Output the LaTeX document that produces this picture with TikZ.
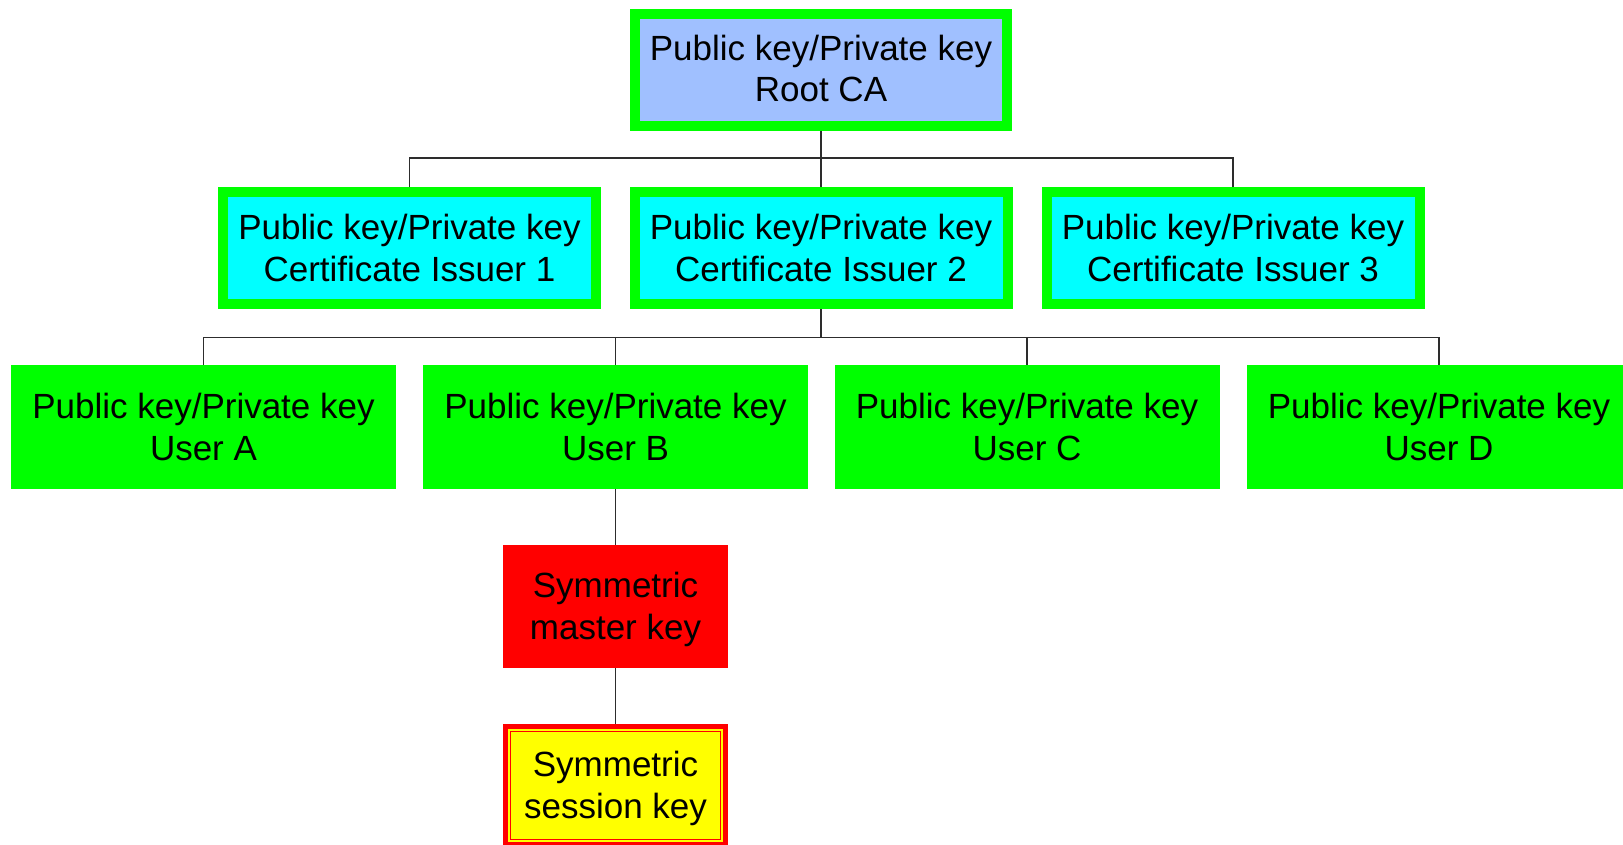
\documentclass[tikz,border=0pt]{standalone}
\usepackage{fontspec}
\setmainfont{Liberation Sans}
\usetikzlibrary{calc}
\definecolor{rootblue}{RGB}{160,192,255}
\definecolor{kgreen}{RGB}{0,255,0}
\definecolor{kcyan}{RGB}{0,255,255}
\definecolor{kred}{RGB}{255,0,0}
\definecolor{kyellow}{RGB}{255,255,0}
\definecolor{conncol}{RGB}{45,45,45}
\tikzset{
  box/.style={rectangle, align=center, inner sep=0pt, font=\fontsize{35}{41.4}\selectfont, text=black},
  lbl/.style={box},
  rootbox/.style={box, fill=rootblue, draw=kgreen, line width=10pt, minimum width=372pt, minimum height=112pt},
  issuerbox/.style={box, fill=kcyan, draw=kgreen, line width=10pt, minimum width=373pt, minimum height=112pt},
  userbox/.style={box, fill=kgreen, minimum width=385pt, minimum height=124pt},
  masterbox/.style={box, fill=kred, minimum width=225pt, minimum height=123pt},
  sessionbox/.style={box, fill=kyellow, draw=kred, line width=5pt, minimum width=220pt, minimum height=118pt},
  conn/.style={draw=conncol, line width=1.3pt},
}
\begin{document}
\begin{tikzpicture}[x=1pt,y=-1pt]
\useasboundingbox (0,0) rectangle (1623,845);
\clip (0,0) rectangle (1623,845);
\fill[white] (0,0) rectangle (1623,845);

\node[rootbox] (root) at (821,70) {};
\node[lbl] (roott) at ([yshift=1.5pt]root.center) {Public key/Private key\\Root CA};

\node[issuerbox] (i1) at (409.5,248) {Public key/Private key\\Certificate Issuer 1};
\node[issuerbox] (i2) at (821,248) {Public key/Private key\\Certificate Issuer 2};
\node[issuerbox] (i3) at (1233,248) {Public key/Private key\\Certificate Issuer 3};

\node[userbox] (uA) at (203.5,427) {Public key/Private key\\User A};
\node[userbox] (uB) at (615.5,427) {Public key/Private key\\User B};
\node[userbox] (uC) at (1027,427) {Public key/Private key\\User C};
\node[userbox] (uD) at (1439,427) {Public key/Private key\\User D};

\node[masterbox] (mk) at (615.5,606.5) {};
\node[lbl] (mkt) at ([yshift=-3pt]mk.center) {Symmetric\\master key};
\node[sessionbox] (sk) at (615.5,785.5) {};
\draw[kred, line width=1.2pt] ($(sk.south west)+(7.5,-7.5)$) rectangle ($(sk.north east)+(-7.5,7.5)$);
\node[lbl] (skt) at ([yshift=-3pt]sk.center) {Symmetric\\session key};

\coordinate (bus1) at (821,158);
\coordinate (bus2) at (821,337.5);

\draw[conn] (root.south) -- (bus1);
\draw[conn] (i1.north) |- (bus1) -| (i3.north);
\draw[conn] (bus1) -- (i2.north);

\draw[conn] (i2.south) -- (bus2);
\draw[conn] (uA.north) |- (bus2) -| (uD.north);
\draw[conn] (uB.north) -- (uB.north |- bus2);
\draw[conn] (uC.north) -- (uC.north |- bus2);

\draw[conn] (uB.south) -- (mk.north);
\draw[conn] (mk.south) -- (sk.north);
\end{tikzpicture}
\end{document}
